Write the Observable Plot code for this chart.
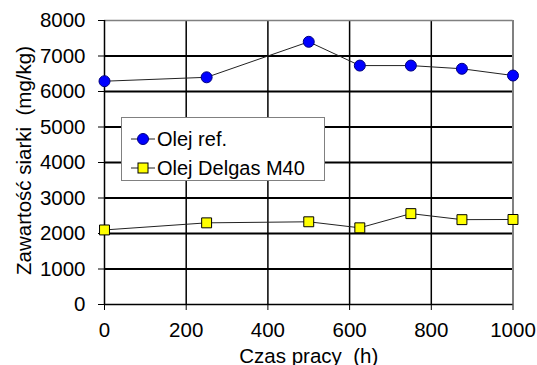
<!DOCTYPE html>
<html><head><meta charset="utf-8">
<script src="https://cdn.jsdelivr.net/npm/d3@7"></script>
<script src="https://cdn.jsdelivr.net/npm/@observablehq/plot@0.6"></script>
<style>
html,body{margin:0;padding:0;background:#fff;}
#wrap{position:relative;width:537px;height:365px;font-family:"Liberation Sans",Arial,sans-serif;}
#legend{position:absolute;left:121px;top:117px;width:204px;height:64px;border:1px solid #808080;background:#fff;box-sizing:border-box;}
.li{position:absolute;left:0;height:20px;display:flex;align-items:center;font-size:20px;color:#000;white-space:nowrap;}
.li svg{margin-left:9px;margin-right:2px;}
</style></head>
<body><div id="wrap"><div id="chart"></div>
<div id="legend"></div></div>
<script>
const hours = [0, 250, 500, 625, 750, 875, 1000];
const refOil = [6290, 6400, 7400, 6730, 6730, 6640, 6450];
const delgasOil = [2100, 2300, 2330, 2160, 2560, 2390, 2395];
const seriesNames = ["Olej ref.", "Olej Delgas M40"];
const xTicks = [0, 200, 400, 600, 800, 1000];
const yTicks = [0, 1000, 2000, 3000, 4000, 5000, 6000, 7000, 8000];
const xLabel = "Czas pracy\u00a0\u00a0(h)";
const yLabel = "Zawartość siarki\u00a0\u00a0(mg/kg)";

const ref = hours.map((h, i) => ({h, v: refOil[i]}));
const del = hours.map((h, i) => ({h, v: delgasOil[i]}));
const FS = 20.5;

const chart = Plot.plot({
  width: 537, height: 365,
  marginLeft: 104, marginRight: 24.5, marginTop: 20, marginBottom: 61,
  style: {fontFamily: '"Liberation Sans", Arial, sans-serif', fontSize: FS + "px", color: "#000", background: "#fff", overflow: "visible"},
  x: {domain: [0, 1000]},
  y: {domain: [0, 8000]},
  marks: [
    Plot.ruleY(yTicks.filter(d => d > 0 && d < 8000), {stroke: "#000", strokeWidth: 2}),
    Plot.ruleX(xTicks.filter(d => d > 0 && d < 1000), {stroke: "#000", strokeWidth: 1.5}),
    Plot.ruleY([8000], {stroke: "#808080", strokeWidth: 1.5}),
    Plot.ruleX([1000], {stroke: "#808080", strokeWidth: 2}),
    Plot.ruleX([0], {stroke: "#000", strokeWidth: 1.5}),
    Plot.ruleY([0], {stroke: "#000", strokeWidth: 1.5}),
    Plot.axisY({ticks: yTicks, tickSize: 6, tickPadding: 13, fontSize: FS, tickFormat: d => String(d), label: null, stroke: "#000", fill: "#000"}),
    Plot.axisX({ticks: xTicks, tickSize: 6, tickPadding: 12, fontSize: FS, tickFormat: d => String(d), label: null, stroke: "#000", fill: "#000"}),
    Plot.text([yLabel], {frameAnchor: "left", textAnchor: "middle", dx: -80, dy: -2, rotate: -90, fontSize: FS, fill: "#000"}),
    Plot.text([xLabel], {frameAnchor: "bottom", textAnchor: "middle", lineAnchor: "bottom", dy: 58, fontSize: FS, fill: "#000"}),
    Plot.line(ref, {x: "h", y: "v", stroke: "#222", strokeWidth: 1}),
    Plot.line(del, {x: "h", y: "v", stroke: "#222", strokeWidth: 1}),
    Plot.dot(ref, {x: "h", y: "v", r: 5.5, fill: "#0000ff", stroke: "#000080", strokeWidth: 1}),
    Plot.dot(del, {x: "h", y: "v", symbol: "square", r: 5.6, fill: "#ffff00", stroke: "#000", strokeWidth: 1})
  ]
});
document.getElementById("chart").appendChild(chart);

const legend = document.getElementById("legend");
const markers = [
  '<circle cx="12" cy="10" r="5.5" fill="#0000ff" stroke="#000080"/>',
  '<rect x="7" y="5" width="10" height="10" fill="#ffff00" stroke="#000"/>'
];
seriesNames.forEach((n, i) => {
  const d = document.createElement("div");
  d.className = "li";
  d.style.top = (11 + i * 29) + "px";
  d.innerHTML = '<svg width="24" height="20"><line x1="0" x2="24" y1="10" y2="10" stroke="#222"/>' + markers[i] + '</svg><span></span>';
  d.querySelector("span").textContent = n;
  legend.appendChild(d);
});
</script></body></html>
